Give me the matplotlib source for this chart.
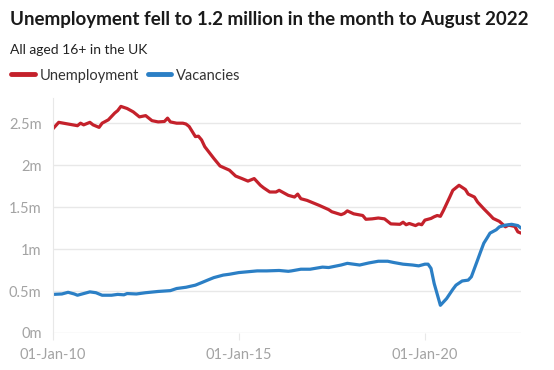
import pandas as pd
import matplotlib.pyplot as plt
import matplotlib.dates as mdates
from matplotlib.lines import Line2D

plt.rcParams["font.family"] = ["Lato", "DejaVu Sans"]

# Unemployment, millions (month)
unemp_dates = [
    "2010-01", "2010-03", "2010-06", "2010-09", "2010-10", "2010-11", "2011-01", "2011-02",
    "2011-04", "2011-05", "2011-07", "2011-09", "2011-10", "2011-11", "2012-01", "2012-03",
    "2012-05", "2012-07", "2012-09", "2012-11", "2013-01", "2013-02", "2013-03", "2013-05",
    "2013-07", "2013-08", "2013-09", "2013-11", "2013-12", "2014-01", "2014-02", "2014-05",
    "2014-07", "2014-10", "2014-12", "2015-02", "2015-04", "2015-06", "2015-08", "2015-09",
    "2015-11", "2016-01", "2016-02", "2016-05", "2016-07", "2016-08", "2016-09", "2016-11",
    "2017-03", "2017-06", "2017-07", "2017-10", "2017-11", "2017-12", "2018-02", "2018-05",
    "2018-06", "2018-08", "2018-10", "2018-12", "2019-02", "2019-05", "2019-06", "2019-07",
    "2019-08", "2019-10", "2019-11", "2019-12", "2020-01", "2020-03", "2020-04", "2020-05",
    "2020-06", "2020-07", "2020-09", "2020-10", "2020-12", "2021-02", "2021-03", "2021-05",
    "2021-06", "2021-08", "2021-10", "2021-11", "2022-01", "2022-03", "2022-04", "2022-06",
    "2022-07", "2022-08",
]
unemp = [
    2.43, 2.51, 2.49, 2.47, 2.50, 2.48, 2.51, 2.48,
    2.45, 2.50, 2.54, 2.62, 2.65, 2.70, 2.675, 2.635,
    2.575, 2.59, 2.53, 2.515, 2.52, 2.56, 2.515, 2.50,
    2.50, 2.49, 2.46, 2.34, 2.345, 2.30, 2.22, 2.08,
    1.99, 1.94, 1.87, 1.84, 1.81, 1.84, 1.76, 1.73,
    1.68, 1.68, 1.70, 1.64, 1.62, 1.655, 1.60, 1.58,
    1.52, 1.47, 1.445, 1.41, 1.425, 1.455, 1.42, 1.40,
    1.355, 1.36, 1.37, 1.36, 1.30, 1.295, 1.32, 1.29,
    1.305, 1.28, 1.30, 1.29, 1.345, 1.365, 1.385, 1.40,
    1.39, 1.46, 1.62, 1.70, 1.76, 1.71, 1.655, 1.62,
    1.56, 1.48, 1.405, 1.365, 1.33, 1.265, 1.285, 1.27,
    1.205, 1.19,
]

# Vacancies, millions
vac_dates = [
    "2010-01", "2010-04", "2010-06", "2010-08", "2010-09", "2010-11", "2011-01", "2011-03",
    "2011-05", "2011-08", "2011-10", "2011-12", "2012-01", "2012-04", "2012-07", "2012-11",
    "2013-03", "2013-05", "2013-08", "2013-11", "2014-01", "2014-03", "2014-05", "2014-08",
    "2014-10", "2015-01", "2015-04", "2015-07", "2015-10", "2016-02", "2016-05", "2016-06",
    "2016-09", "2016-12", "2017-04", "2017-06", "2017-10", "2017-12", "2018-04", "2018-07",
    "2018-10", "2019-01", "2019-03", "2019-06", "2019-09", "2019-11", "2020-01", "2020-02",
    "2020-03", "2020-04", "2020-06", "2020-08", "2020-10", "2020-11", "2021-01", "2021-03",
    "2021-04", "2021-06", "2021-07", "2021-08", "2021-09", "2021-10", "2021-12", "2022-01",
    "2022-03", "2022-05", "2022-07", "2022-08",
]
vac = [
    0.46, 0.465, 0.485, 0.465, 0.45, 0.47, 0.49, 0.48,
    0.45, 0.45, 0.46, 0.455, 0.47, 0.465, 0.48, 0.495,
    0.505, 0.53, 0.545, 0.57, 0.60, 0.63, 0.66, 0.69,
    0.70, 0.72, 0.73, 0.74, 0.74, 0.745, 0.735, 0.74,
    0.76, 0.76, 0.785, 0.78, 0.81, 0.83, 0.81, 0.835,
    0.855, 0.855, 0.84, 0.82, 0.81, 0.80, 0.82, 0.82,
    0.77, 0.59, 0.33, 0.41, 0.52, 0.57, 0.62, 0.63,
    0.67, 0.87, 0.97, 1.07, 1.13, 1.19, 1.23, 1.265,
    1.285, 1.295, 1.28, 1.25,
]

y_ticks = [0, 0.5, 1, 1.5, 2, 2.5]
y_labels = ["0m", "0.5m", "1m", "1.5m", "2m", "2.5m"]
x_ticks = ["2010-01-01", "2015-01-01", "2020-01-01"]

red = "#c4212b"
blue = "#2b7fc5"
grey = "#a3a3a3"
gridc = "#e8e8e8"

fig = plt.figure(figsize=(5.54, 3.70), dpi=100)
ax = fig.add_axes([52.7 / 554, 1 - 333 / 370, (521 - 52.7) / 554, (333 - 98) / 370])

ax.plot(pd.to_datetime(unemp_dates), unemp, color=red, lw=2.3, solid_capstyle="round")
ax.plot(pd.to_datetime(vac_dates), vac, color=blue, lw=2.3, solid_capstyle="round")

ax.set_ylim(0, 2.8)
ax.set_xlim(pd.Timestamp("2010-01-01"), pd.Timestamp("2022-08-01"))
ax.set_yticks(y_ticks)
ax.set_yticklabels(y_labels)
ax.set_xticks(pd.to_datetime(x_ticks))
ax.xaxis.set_major_formatter(mdates.DateFormatter("%d-%b-%y"))

ax.grid(axis="y", color=gridc, lw=1)
ax.set_axisbelow(True)
for s in ["top", "right", "bottom"]:
    ax.spines[s].set_visible(False)
ax.spines["left"].set_color(gridc)
ax.tick_params(axis="y", length=0, pad=8, labelsize=10.5, labelcolor=grey)
ax.tick_params(axis="x", length=5, color=gridc, pad=6, labelsize=10.5, labelcolor=grey)

# titles
fig.text(10 / 554, 1 - 25 / 370, "Unemployment fell to 1.2 million in the month to August 2022",
         fontsize=13.5, fontweight="bold", color="#1a1a1a", va="baseline")
fig.text(10 / 554, 1 - 54 / 370, "All aged 16+ in the UK",
         fontsize=10, color="#222222", va="baseline")

# legend
ly = 1 - 73.5 / 370
fig.add_artist(Line2D([11 / 554, 35 / 554], [ly, ly], color=red, lw=3.5, solid_capstyle="round"))
fig.text(40 / 554, 1 - 80 / 370, "Unemployment", fontsize=10.5, color="#333333", va="baseline")
fig.add_artist(Line2D([148 / 554, 171 / 554], [ly, ly], color=blue, lw=3.5, solid_capstyle="round"))
fig.text(176 / 554, 1 - 80 / 370, "Vacancies", fontsize=10.5, color="#333333", va="baseline")

plt.savefig("out.png", dpi=100)
